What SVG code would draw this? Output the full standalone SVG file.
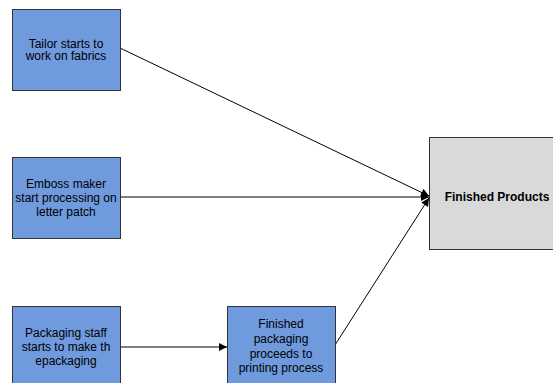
<svg xmlns="http://www.w3.org/2000/svg" width="553" height="383" viewBox="0 0 553 383">
<defs>
<marker id="ah" viewBox="0 0 10 10" refX="10" refY="5" markerWidth="9" markerHeight="8" markerUnits="userSpaceOnUse" orient="auto">
<path d="M0,0 L10,5 L0,10 Z" fill="#000"/>
</marker>
<style>
.b{fill:#6f9ade;stroke:#333;stroke-width:1}
.g{fill:#d9d9d9;stroke:#333;stroke-width:1}
text{font-family:"Liberation Sans",Arial,sans-serif;font-size:12px;fill:#000;text-anchor:middle}
.bold{font-weight:bold}
.c{stroke:#000;stroke-width:1;fill:none;marker-end:url(#ah)}
</style>
</defs>
<rect width="553" height="383" fill="#fff"/>
<g id="connectors">
<line class="c" x1="120" y1="48" x2="429" y2="196"/>
<line class="c" x1="120" y1="197" x2="429" y2="197"/>
<line class="c" x1="335" y1="345" x2="429" y2="198"/>
<line class="c" x1="120" y1="347" x2="227" y2="347"/>
</g>
<g id="n1">
<rect class="b" x="12.5" y="9.5" width="108" height="81"/>
<text x="66" y="47.5">Tailor starts to</text>
<text x="66" y="60">work on fabrics</text>
</g>
<g id="n2">
<rect class="b" x="12.5" y="157.5" width="108" height="81"/>
<text x="66" y="187.5">Emboss maker</text>
<text x="66" y="201.5">start processing on</text>
<text x="66" y="215.5">letter patch</text>
</g>
<g id="n3">
<rect class="b" x="12.5" y="306.5" width="108" height="81"/>
<text x="66" y="336.5">Packaging staff</text>
<text x="66" y="350.5">starts to make th</text>
<text x="66" y="364.5">epackaging</text>
</g>
<g id="n4">
<rect class="b" x="227.5" y="306.5" width="108" height="81"/>
<text x="281" y="327.5">Finished</text>
<text x="281" y="342.5">packaging</text>
<text x="281" y="357.5">proceeds to</text>
<text x="281" y="371.5">printing process</text>
</g>
<g id="n5">
<rect class="g" x="429.5" y="137.5" width="136" height="112"/>
<text class="bold" x="497" y="201">Finished Products</text>
</g>
</svg>
